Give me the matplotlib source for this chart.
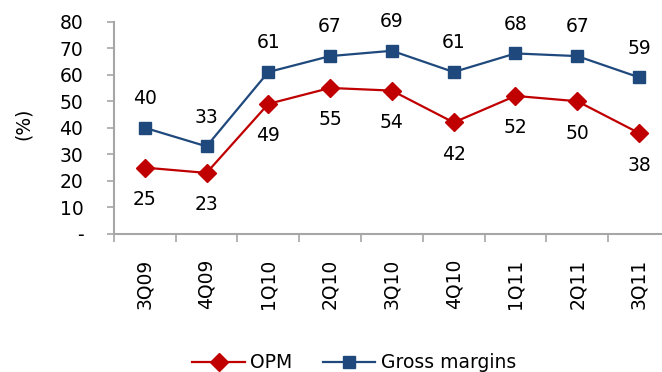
import matplotlib
matplotlib.use("Agg")
import matplotlib.pyplot as plt
from matplotlib.ticker import FixedLocator, NullFormatter

plt.rcParams['font.family'] = ['DejaVu Sans']

quarters = ["3Q09", "4Q09", "1Q10", "2Q10", "3Q10", "4Q10", "1Q11", "2Q11", "3Q11"]
opm = [25, 23, 49, 55, 54, 42, 52, 50, 38]
gross_margins = [40, 33, 61, 67, 69, 61, 68, 67, 59]
y_ticks = [0, 10, 20, 30, 40, 50, 60, 70, 80]
y_tick_labels = ["-", "10", "20", "30", "40", "50", "60", "70", "80"]

red = "#C00000"
blue = "#1F497D"
grey = "#A6A6A6"
fs = 13.5

fig = plt.figure(figsize=(6.62, 3.72), dpi=100)
ax = fig.add_axes([0.172, 0.371, 0.84, 0.571])

x = list(range(len(quarters)))
ax.plot(x, opm, color=red, lw=1.6, marker="D", markersize=9, label="OPM", clip_on=False)
ax.plot(x, gross_margins, color=blue, lw=1.6, marker="s", markersize=8.5,
        label="Gross margins", clip_on=False)

for xi, v in zip(x, gross_margins):
    ax.annotate(str(v), (xi, v), xytext=(0, 21), textcoords="offset points",
                ha="center", va="center", fontsize=fs)
for xi, v in zip(x, opm):
    ax.annotate(str(v), (xi, v), xytext=(0, -23), textcoords="offset points",
                ha="center", va="center", fontsize=fs)

ax.set_xlim(-0.5, len(quarters) - 0.5)
ax.set_ylim(0, 80)
ax.set_yticks(y_ticks)
ax.set_yticklabels(y_tick_labels, fontsize=fs)
ax.tick_params(axis="y", length=5, color=grey, width=1.2, pad=17)

ax.set_xticks(x)
ax.set_xticklabels(quarters, rotation=90, fontsize=fs)
ax.tick_params(axis="x", which="major", length=0, pad=18)
ax.xaxis.set_minor_locator(FixedLocator([i - 0.5 for i in range(len(quarters) + 1)]))
ax.xaxis.set_minor_formatter(NullFormatter())
ax.tick_params(axis="x", which="minor", length=6, color=grey, width=1.2)

for side in ("top", "right"):
    ax.spines[side].set_visible(False)
for side in ("left", "bottom"):
    ax.spines[side].set_color(grey)
    ax.spines[side].set_linewidth(1.5)

ax.set_ylabel("(%)", fontsize=fs)
ax.yaxis.set_label_coords(-0.145, 0.52)

fig.legend(loc="center", bbox_to_anchor=(0.535, 0.025), ncol=2, frameon=False,
           fontsize=fs, handlelength=2.8, columnspacing=1.6, handletextpad=0.3)

fig.savefig("out.png", dpi=100)
